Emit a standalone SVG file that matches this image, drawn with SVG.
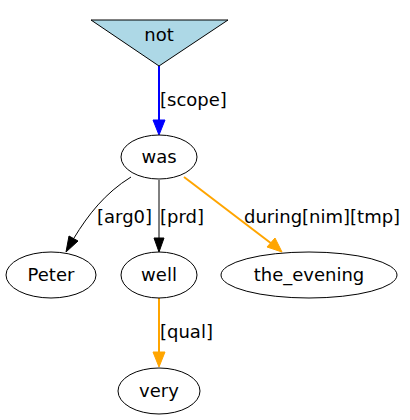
<svg xmlns="http://www.w3.org/2000/svg" width="410" height="420" viewBox="0 0 410 420">
<style>
text{font-family:"DejaVu Sans",sans-serif;font-size:18px;fill:#000}
.n{fill:#fff;stroke:#000;stroke-width:1}
.c{text-anchor:middle}
</style>
<rect width="410" height="420" fill="#fff"/>
<g id="connectors">
<path d="M159,66L159,121" stroke="#0000ff" stroke-width="2" fill="none"/>
<polygon points="153,120 165,120 159,135" fill="#0000ff" stroke="#0000ff"/>
<text x="160" y="106">[scope]</text>
<path d="M131,177C105,193 88,215 74,238" stroke="#000" stroke-width="1" fill="none"/>
<polygon points="69,236 78,241 66,252" fill="#000" stroke="#000"/>
<text x="97" y="223">[arg0]</text>
<path d="M159,180L159,239" stroke="#000" stroke-width="1" fill="none"/>
<polygon points="154,238 164,238 159,252" fill="#000" stroke="#000"/>
<text x="160" y="223">[prd]</text>
<path d="M184,177L272,244" stroke="#ffa500" stroke-width="2" fill="none"/>
<polygon points="267,247 275,238 282,252" fill="#ffa500" stroke="#ffa500"/>
<text x="244" y="223">during[nim][tmp]</text>
<path d="M159,298L159,353" stroke="#ffa500" stroke-width="2" fill="none"/>
<polygon points="153,352 165,352 159,367" fill="#ffa500" stroke="#ffa500"/>
<text x="160" y="338">[qual]</text>
</g>
<g id="not">
<polygon points="91,20 228,20 159,66" fill="#add8e6" stroke="#000"/>
<text class="c" x="159" y="41">not</text>
</g>
<g id="was">
<ellipse class="n" cx="159" cy="157" rx="38" ry="22"/>
<text class="c" x="159" y="163">was</text>
</g>
<g id="Peter">
<ellipse class="n" cx="51" cy="275" rx="45" ry="23"/>
<text class="c" x="51" y="281">Peter</text>
</g>
<g id="well">
<ellipse class="n" cx="159" cy="275" rx="38" ry="23"/>
<text class="c" x="159" y="281">well</text>
</g>
<g id="the_evening">
<ellipse class="n" cx="309" cy="275" rx="88" ry="23"/>
<text class="c" x="309" y="281">the_evening</text>
</g>
<g id="very">
<ellipse class="n" cx="159" cy="391" rx="41" ry="23"/>
<text class="c" x="159" y="397">very</text>
</g>
</svg>
